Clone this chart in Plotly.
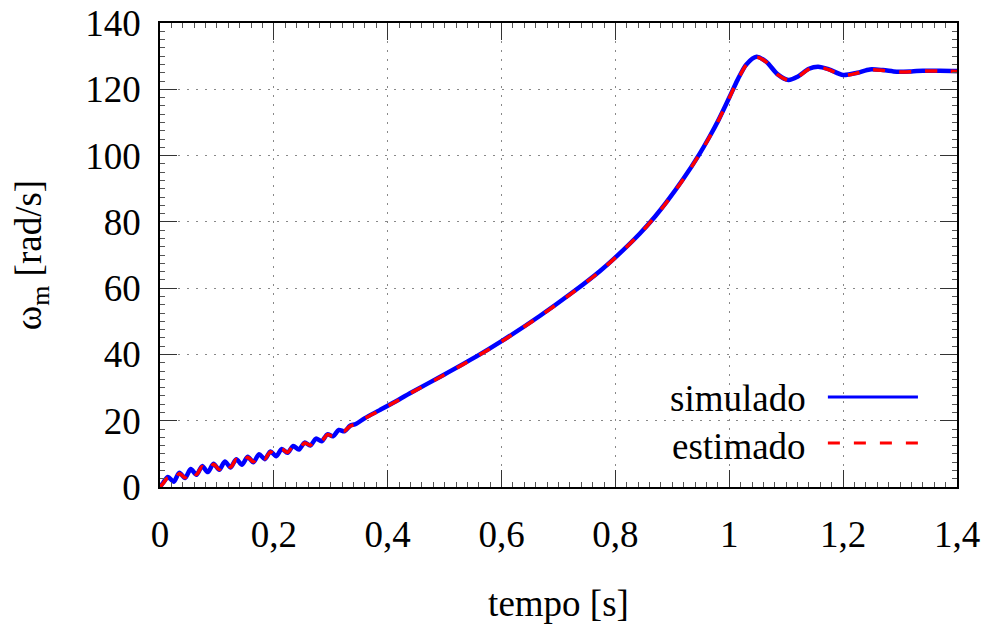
import plotly.graph_objects as go

# ---- data ----
tempo = [0.000, 0.006, 0.014, 0.024, 0.034, 0.044, 0.054, 0.064, 0.074, 0.084,
         0.094, 0.104, 0.114, 0.124, 0.134, 0.144, 0.154, 0.164, 0.174, 0.184,
         0.194, 0.204, 0.214, 0.224, 0.234, 0.244, 0.254, 0.264, 0.274, 0.284,
         0.294, 0.304, 0.314, 0.324, 0.334, 0.344, 0.360, 0.386, 0.420, 0.439,
         0.498, 0.556, 0.600, 0.667, 0.726, 0.773, 0.800, 0.843, 0.870, 0.890,
         0.919, 0.947, 0.965, 0.981, 1.000, 1.015, 1.030, 1.048, 1.065, 1.085,
         1.104, 1.120, 1.140, 1.156, 1.175, 1.200, 1.225, 1.247, 1.270, 1.294,
         1.320, 1.340, 1.370, 1.400]

simulado = [0.0, 1.4, 3.0, 1.6, 4.3, 2.7, 5.4, 3.7, 6.3, 4.5,
            7.0, 5.2, 7.7, 5.9, 8.4, 6.7, 9.1, 7.5, 9.9, 8.4,
            10.7, 9.3, 11.5, 10.3, 12.4, 11.3, 13.4, 12.5, 14.6, 13.8,
            15.9, 15.3, 17.2, 16.8, 18.5, 19.0, 20.8, 23.2, 26.4, 28.3,
            33.8, 39.4, 44.0, 51.6, 58.9, 65.2, 69.3, 76.5, 81.7, 86.0,
            92.9, 100.3, 105.6, 110.7, 117.5, 123.0, 127.5, 129.8, 128.3, 124.5,
            122.8, 123.8, 126.2, 126.8, 126.0, 124.3, 125.0, 126.0, 125.8, 125.3,
            125.4, 125.6, 125.6, 125.5]

estimado = [0.0, 1.2, 2.8, 1.7, 4.1, 2.8, 5.2, 3.8, 6.1, 4.6,
            6.9, 5.3, 7.6, 6.0, 8.3, 6.8, 9.0, 7.6, 9.8, 8.5,
            10.6, 9.4, 11.4, 10.4, 12.3, 11.4, 13.3, 12.6, 14.5, 13.9,
            15.8, 15.4, 17.1, 16.9, 18.4, 19.0, 20.7, 23.1, 26.3, 28.2,
            33.7, 39.3, 43.9, 51.5, 58.8, 65.1, 69.2, 76.4, 81.6, 85.9,
            92.8, 100.2, 105.5, 110.6, 117.4, 122.9, 127.4, 129.7, 128.2, 124.4,
            122.7, 123.7, 126.1, 126.7, 125.9, 124.2, 124.9, 125.9, 125.7, 125.2,
            125.3, 125.5, 125.5, 125.4]

x_ticks = [0, 0.2, 0.4, 0.6, 0.8, 1.0, 1.2, 1.4]
x_labels = ["0", "0,2", "0,4", "0,6", "0,8", "1", "1,2", "1,4"]
y_ticks = [0, 20, 40, 60, 80, 100, 120, 140]
y_labels = ["0", "20", "40", "60", "80", "100", "120", "140"]
series_names = ["simulado", "estimado"]

FONT = "Liberation Serif"
FS = 37

fig = go.Figure()
fig.add_trace(go.Scatter(x=tempo, y=simulado, mode="lines", name=series_names[0],
                         line=dict(color="#0000ff", width=4.5, shape="spline", smoothing=0.8),
                         showlegend=False))
fig.add_trace(go.Scatter(x=tempo, y=estimado, mode="lines", name=series_names[1],
                         line=dict(color="#ff0000", width=3.5, dash="12px,14px",
                                   shape="spline", smoothing=0.8),
                         showlegend=False))

axis_common = dict(
    showline=True, linecolor="black", linewidth=1.5, mirror="ticks",
    ticks="inside", ticklen=17, tickwidth=1.2, tickcolor="#333333",
    showgrid=True, gridcolor="#888888", gridwidth=1, griddash="2px,7px",
    zeroline=False,
    tickfont=dict(family=FONT, size=FS, color="black"),
)

fig.update_xaxes(range=[0, 1.4], tickvals=x_ticks, ticktext=x_labels,
                 minor=dict(ticks="inside", ticklen=5, dtick=0.02, tickcolor="#555555",
                            showgrid=False),
                 ticklabelstandoff=14,
                 title=dict(text="tempo [s]", font=dict(family=FONT, size=FS, color="black"),
                            standoff=36),
                 **axis_common)
fig.update_yaxes(range=[0, 140], tickvals=y_ticks, ticktext=y_labels,
                 minor=dict(ticks="inside", ticklen=5, dtick=2.5, tickcolor="#555555",
                            showgrid=False),
                 ticklabelstandoff=10,
                 title=dict(text="ω<sub>m</sub> [rad/s]",
                            font=dict(family=FONT, size=FS, color="black"),
                            standoff=32),
                 **axis_common)

# manual legend (text on the left, sample on the right)
leg_items = [(series_names[0], 0.194, 0.191, dict(color="#0000ff", width=3)),
             (series_names[1], 0.0948, 0.087, dict(color="#ff0000", width=3, dash="12px,14px"))]
for name, ly, ty, ln in leg_items:
    fig.add_annotation(xref="paper", yref="paper", x=0.813, y=ty, text=name,
                       showarrow=False, xanchor="right", yanchor="middle",
                       font=dict(family=FONT, size=FS, color="black"))
    fig.add_shape(type="line", xref="paper", yref="paper", x0=0.838, x1=0.951,
                  y0=ly, y1=ly, line=ln)

fig.update_layout(
    width=987, height=626,
    margin=dict(l=160, r=30, t=23, b=139, autoexpand=False),
    paper_bgcolor="white", plot_bgcolor="white",
    font=dict(family=FONT, size=FS, color="black"),
)

fig.write_html("out.html", config={"displayModeBar": False},
               post_script="document.body.style.margin='0px';")
